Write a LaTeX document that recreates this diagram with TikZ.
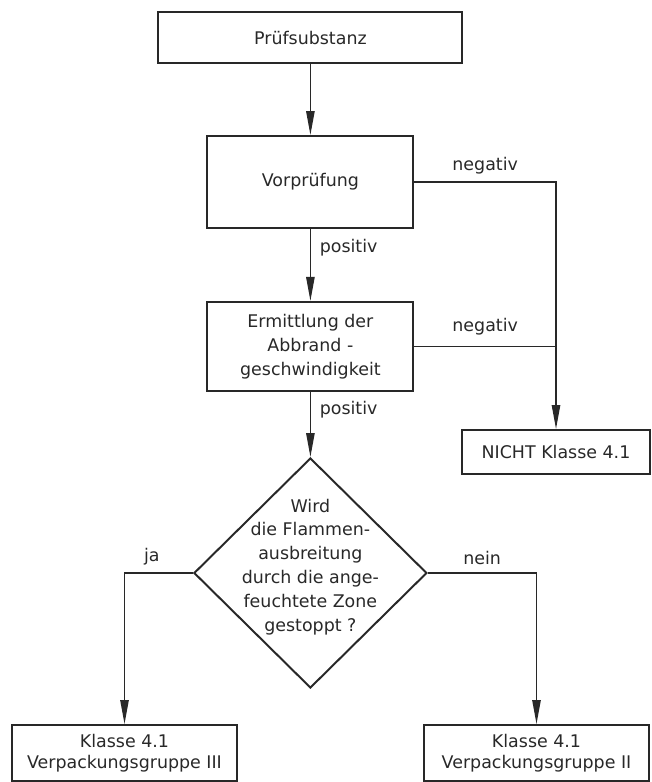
\documentclass[tikz,border=0pt]{standalone}
\usepackage{fontspec}
\setmainfont{DejaVu Sans}
\usepackage{tikz}
\usetikzlibrary{arrows.meta,calc,positioning,shapes.geometric}
\definecolor{InkGray}{RGB}{40,40,40}

\begin{document}
\begin{tikzpicture}[>={Triangle[length=6mm,width=2.1mm]},
  every node/.style={font=\fontsize{12.4}{17}\selectfont, text=InkGray},
  stepbox/.style={draw=InkGray, line width=1.4pt, align=center, inner sep=0pt},
  flow/.style={draw=InkGray, line width=1pt}]
\useasboundingbox (0,0) rectangle (16.275,-19.55);
\node[stepbox, minimum width=7.6cm, minimum height=1.275cm] (pruef) at (7.76,-0.94) {Prüfsubstanz};
\node[stepbox, minimum width=5.15cm, minimum height=2.3cm] (vor) at (7.76,-4.55) {Vorprüfung};
\node[stepbox, minimum width=5.15cm, minimum height=2.225cm] (abb) at (7.76,-8.66)
    {Ermittlung der\\Abbrand -\\geschwindigkeit};
\node[stepbox, minimum width=4.7cm, minimum height=1.1cm] (nicht) at (13.9,-11.3) {NICHT Klasse 4.1};
\node[draw=InkGray, line width=1.4pt, shape=diamond, minimum width=5.825cm, minimum height=5.75cm,
    inner sep=0pt] (ask) at (7.76,-14.325) {};
\node[align=center] (asktext) at ($(ask.center)+(0,0.15)$)
    {Wird\\die Flammen-\\ausbreitung\\durch die ange-\\feuchtete Zone\\gestoppt ?};
\node[stepbox, minimum width=5.625cm, minimum height=1.4cm, font=\fontsize{12.4}{15}\selectfont]
    (kl3) at (3.1125,-18.825) {Klasse 4.1\\Verpackungsgruppe III};
\node[stepbox, minimum width=5.625cm, minimum height=1.4cm, font=\fontsize{12.4}{15}\selectfont]
    (kl2) at (13.4125,-18.825) {Klasse 4.1\\Verpackungsgruppe II};
\draw[flow, ->] (pruef) -- (vor);
\draw[flow, ->] (vor) -- node (pos1) [pos=0.26, right=0.1cm] {positiv} (abb);
\draw[flow, ->] (abb) -- node (pos2) [pos=0.28, right=0.1cm] {positiv} (ask);
\draw[flow, ->] (vor.east) -| node (neg1) [pos=0.25, above=2pt] {negativ} (nicht.north);
\draw[flow] (abb.east) -- node (neg2) [above=4pt] {negativ} (abb.east -| nicht.north);
\draw[flow, ->] (ask.west) -| node (ja) [pos=0.3, above=2pt] {ja} (kl3.north);
\draw[flow, ->] (ask.east) -| node (nein) [pos=0.25, above=2pt] {nein} (kl2.north);
\end{tikzpicture}
\end{document}
